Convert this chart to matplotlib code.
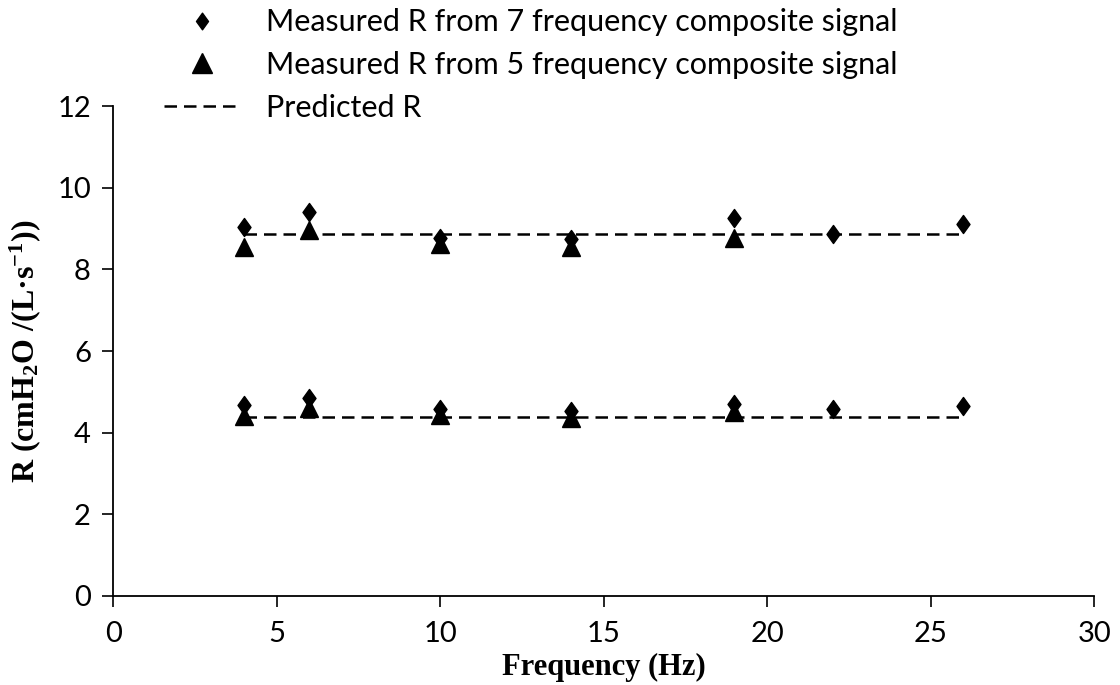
import matplotlib
matplotlib.use("Agg")
import matplotlib.pyplot as plt
from matplotlib.path import Path
from matplotlib.lines import Line2D

# frequencies of each composite signal (Hz)
freq7 = [4, 6, 10, 14, 19, 22, 26]
freq5 = [4, 6, 10, 14, 19]

# measured resistance, high-R and low-R loads
r7_high = [9.04, 9.41, 8.77, 8.75, 9.26, 8.87, 9.12]
r5_high = [8.55, 8.97, 8.62, 8.55, 8.77]
r7_low = [4.68, 4.85, 4.58, 4.53, 4.70, 4.58, 4.66]
r5_low = [4.41, 4.60, 4.44, 4.36, 4.50]

# predicted resistance of each load, spanning the tested band
pred_x = [4, 26]
pred_high = 8.88
pred_low = 4.39

plt.rcParams["font.family"] = ["Lato", "DejaVu Sans"]
plt.rcParams["mathtext.fontset"] = "custom"
plt.rcParams["mathtext.rm"] = "Liberation Serif:bold"
plt.rcParams["mathtext.bf"] = "Liberation Serif:bold"
plt.rcParams["mathtext.it"] = "Liberation Serif:bold"

# slightly narrow diamond
diamond = Path([(0, 1), (0.72, 0), (0, -1), (-0.72, 0), (0, 1)],
               [Path.MOVETO, Path.LINETO, Path.LINETO, Path.LINETO, Path.CLOSEPOLY])
dash = (0, (5.0, 2.8))

fig = plt.figure(figsize=(11.2, 6.85), dpi=100)
ax = fig.add_axes([0.101, 0.130, 0.876, 0.715])

for y in (pred_high, pred_low):
    ax.plot(pred_x, [y, y], color="black", lw=1.8, linestyle=dash, zorder=2)
ax.plot(freq7, r7_high, linestyle="none", marker=diamond, ms=13, color="black", zorder=3)
ax.plot(freq7, r7_low, linestyle="none", marker=diamond, ms=13, color="black", zorder=3)
ax.plot(freq5, r5_high, linestyle="none", marker="^", ms=13, color="black", zorder=3)
ax.plot(freq5, r5_low, linestyle="none", marker="^", ms=13, color="black", zorder=3)

ax.set_xlim(0, 30)
ax.set_ylim(0, 12)
ax.set_xticks(range(0, 31, 5))
ax.set_yticks(range(0, 13, 2))
for side in ("top", "right"):
    ax.spines[side].set_visible(False)
for side in ("left", "bottom"):
    ax.spines[side].set_linewidth(1.3)
ax.tick_params(direction="out", length=8, width=1.2, labelsize=21)
ax.tick_params(axis="x", pad=10)
ax.tick_params(axis="y", pad=8)

ax.set_xlabel("Frequency (Hz)", family="Liberation Serif", fontweight="bold",
              fontsize=22, labelpad=4)
ax.set_ylabel("R (cmH$_2$O /(L·s$^{-1}$))", family="Liberation Serif",
              fontweight="bold", fontsize=23, labelpad=10)

handles = [
    Line2D([], [], linestyle="none", marker=diamond, ms=12, color="black"),
    Line2D([], [], linestyle="none", marker="^", ms=15, color="black"),
    Line2D([], [], color="black", lw=1.8, linestyle=dash),
]
labels = [
    "Measured R from 7 frequency composite signal",
    "Measured R from 5 frequency composite signal",
    "Predicted R",
]
fig.legend(handles, labels, loc="upper left", bbox_to_anchor=(0.146, 0.988),
           frameon=False, fontsize=22, handlelength=2.5, handletextpad=0.85,
           labelspacing=0.48, borderpad=0, borderaxespad=0)

fig.savefig("out.png", dpi=100)
